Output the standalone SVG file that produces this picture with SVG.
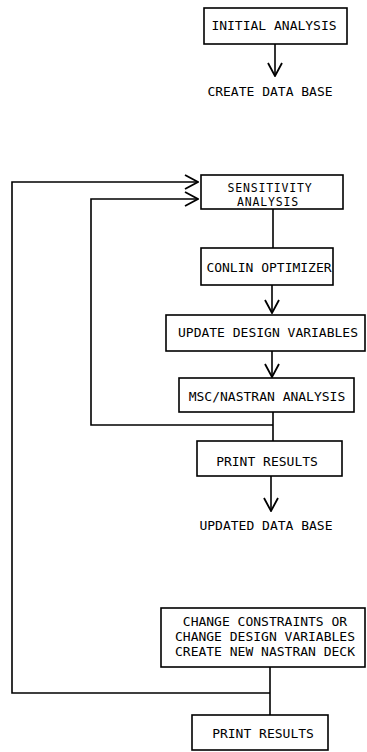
<svg xmlns="http://www.w3.org/2000/svg" width="367" height="752" viewBox="0 0 367 752">
<style>
  .box { fill: #fff; stroke: #000; stroke-width: 1.6; }
  .t { font-family: "DejaVu Sans Mono", "Liberation Mono", monospace; font-size: 13px; fill: #000; text-anchor: middle; }
  .s { font-size: 11.5px; letter-spacing: 0.8px; }
  .c { fill: none; stroke: #000; stroke-width: 1.6; }
</style>
<defs>
  <marker id="chev" viewBox="0 0 16 16" refX="15" refY="8" markerWidth="16" markerHeight="16" markerUnits="userSpaceOnUse" orient="auto">
    <path d="M2,1 L15,8 L2,15" fill="none" stroke="#000" stroke-width="1.8"/>
  </marker>
</defs>
<rect width="367" height="752" fill="#fff"/>
<g id="connectors">
  <path class="c" d="M275,44 V76" marker-end="url(#chev)"/>
  <path class="c" d="M273,209 V248"/>
  <path class="c" d="M272,285 V313" marker-end="url(#chev)"/>
  <path class="c" d="M272,351 V377" marker-end="url(#chev)"/>
  <path class="c" d="M273,412 V441"/>
  <path class="c" d="M273,425 H91 V199 H198" marker-end="url(#chev)"/>
  <path class="c" d="M271,476 V511" marker-end="url(#chev)"/>
  <path class="c" d="M270,667 V715"/>
  <path class="c" d="M270,693 H12 V182 H198" marker-end="url(#chev)"/>
</g>
<g id="initial-analysis">
  <rect class="box" x="204" y="8" width="143" height="36"/>
  <text class="t" x="274" y="30">INITIAL ANALYSIS</text>
</g>
<g id="create-data-base">
  <text class="t" x="270" y="96">CREATE DATA BASE</text>
</g>
<g id="sensitivity-analysis">
  <rect class="box" x="201" y="175" width="142" height="34"/>
  <text class="t s" x="270" y="191.5">SENSITIVITY</text>
  <text class="t s" x="268" y="205.5">ANALYSIS</text>
</g>
<g id="conlin-optimizer">
  <rect class="box" x="201" y="248" width="132" height="37"/>
  <text class="t" x="269" y="272">CONLIN OPTIMIZER</text>
</g>
<g id="update-design-variables">
  <rect class="box" x="166" y="315" width="199" height="36"/>
  <text class="t" x="268" y="337">UPDATE DESIGN VARIABLES</text>
</g>
<g id="msc-nastran-analysis">
  <rect class="box" x="179" y="378" width="175" height="34"/>
  <text class="t" x="267" y="401">MSC/NASTRAN ANALYSIS</text>
</g>
<g id="print-results-1">
  <rect class="box" x="197" y="441" width="145" height="35"/>
  <text class="t" x="267" y="466">PRINT RESULTS</text>
</g>
<g id="updated-data-base">
  <text class="t" x="266" y="530">UPDATED DATA BASE</text>
</g>
<g id="change-constraints">
  <rect class="box" x="161" y="608" width="204" height="59"/>
  <text class="t" x="265" y="626">CHANGE CONSTRAINTS OR</text>
  <text class="t" x="265" y="641">CHANGE DESIGN VARIABLES</text>
  <text class="t" x="265" y="656">CREATE NEW NASTRAN DECK</text>
</g>
<g id="print-results-2">
  <rect class="box" x="192" y="715" width="136" height="35"/>
  <text class="t" x="263" y="738">PRINT RESULTS</text>
</g>
</svg>
